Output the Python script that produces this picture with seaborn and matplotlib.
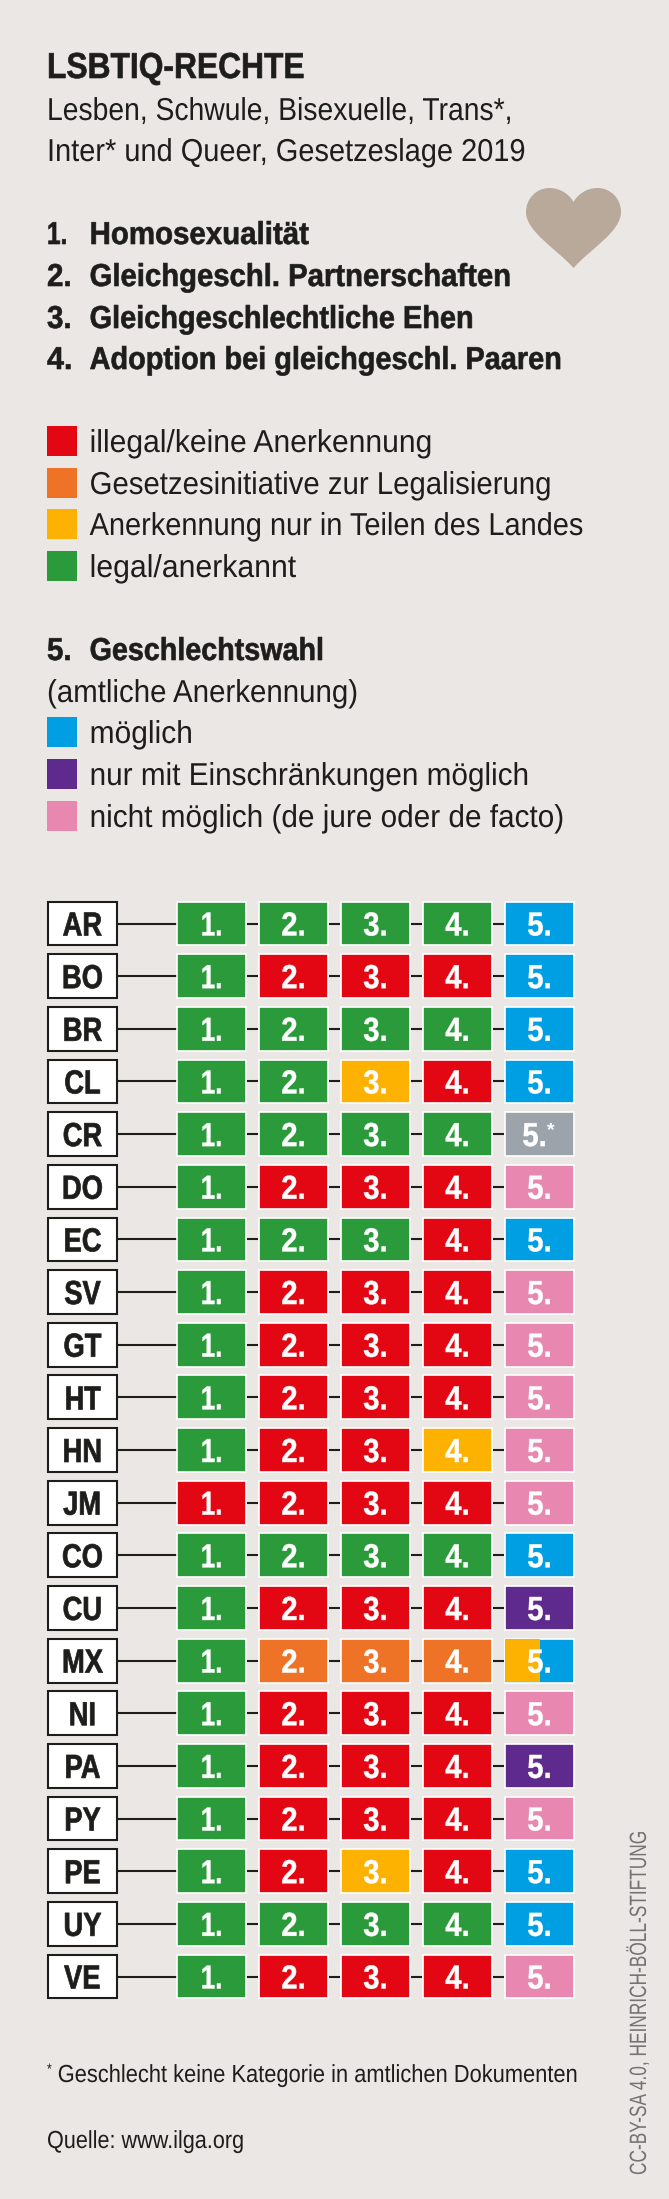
import matplotlib
matplotlib.use("Agg")
import matplotlib.pyplot as plt
from matplotlib.patches import Rectangle, PathPatch
from matplotlib.path import Path
from matplotlib.patheffects import AbstractPathEffect
from matplotlib.transforms import Affine2D, Bbox
import pandas as pd
import seaborn as sns

W, H, DPI = 669, 2199, 100
BG = "#EBE7E4"
INK = "#1D1D1B"

countries = ["AR", "BO", "BR", "CL", "CR", "DO", "EC", "SV", "GT", "HT", "HN",
             "JM", "CO", "CU", "MX", "NI", "PA", "PY", "PE", "UY", "VE"]
law1 = ["G", "G", "G", "G", "G", "G", "G", "G", "G", "G", "G", "R", "G", "G", "G", "G", "G", "G", "G", "G", "G"]
law2 = ["G", "R", "G", "G", "G", "R", "G", "R", "R", "R", "R", "R", "G", "R", "O", "R", "R", "R", "R", "G", "R"]
law3 = ["G", "R", "G", "Y", "G", "R", "G", "R", "R", "R", "R", "R", "G", "R", "O", "R", "R", "R", "Y", "G", "R"]
law4 = ["G", "R", "G", "R", "G", "R", "R", "R", "R", "R", "Y", "R", "G", "R", "O", "R", "R", "R", "R", "G", "R"]
gender = ["B", "B", "B", "B", "N", "K", "B", "K", "K", "K", "K", "K", "B", "P", "B", "K", "P", "K", "B", "B", "K"]
columns = [law1, law2, law3, law4, gender]
column_labels = ["1.", "2.", "3.", "4.", "5."]
palette = {"R": "#E30613", "O": "#EE7326", "Y": "#FDB100", "G": "#2A9A3B",
           "B": "#009FE3", "P": "#5F2A8E", "K": "#E888B0", "N": "#9CA3AB"}
legend_law = [("R", "illegal/keine Anerkennung"),
              ("O", "Gesetzesinitiative zur Legalisierung"),
              ("Y", "Anerkennung nur in Teilen des Landes"),
              ("G", "legal/anerkannt")]
legend_gender = [("B", "möglich"), ("P", "nur mit Einschränkungen möglich"),
                 ("K", "nicht möglich (de jure oder de facto)")]
topics = [("1.", "Homosexualität"), ("2.", "Gleichgeschl. Partnerschaften"),
          ("3.", "Gleichgeschlechtliche Ehen"), ("4.", "Adoption bei gleichgeschl. Paaren")]

sns.set_theme(style="white")
plt.rcParams["font.family"] = ["Liberation Sans", "DejaVu Sans"]
fig = plt.figure(figsize=(W / DPI, H / DPI), dpi=DPI, facecolor=BG)
renderer = fig.canvas.get_renderer()


class Squeeze(AbstractPathEffect):
    """Narrows the glyphs of a text along its own baseline; optional thin outline restores stem weight."""

    def __init__(self, sx, center=False, stroke=0.0):
        super().__init__()
        self.sx, self.center, self.stroke = sx, center, stroke

    def draw_path(self, renderer, gc, tpath, affine, rgbFace=None):
        cx = 0.0
        if self.center:
            e = tpath.get_extents()
            cx = (e.x0 + e.x1) / 2
        tr = Affine2D().translate(-cx, 0).scale(self.sx, 1).translate(cx, 0) + affine
        g = renderer.new_gc()
        g.copy_properties(gc)
        if self.stroke:
            g.set_foreground(rgbFace)
            g.set_linewidth(self.stroke)
        renderer.draw_path(g, tpath, tr, rgbFace)
        g.restore()


def squeeze(txt, sx, center=False, stroke=0.0):
    txt.set_path_effects([Squeeze(sx, center, stroke)])
    orig = txt.get_window_extent

    def extent(renderer=None, dpi=None):
        b = orig(renderer, dpi)
        if txt.get_rotation() == 90:
            return Bbox.from_extents(b.x0, b.y0, b.x1, b.y0 + b.height * sx)
        if center:
            m = (b.x0 + b.x1) / 2
            return Bbox.from_extents(m - b.width * sx / 2, b.y0, m + b.width * sx / 2, b.y1)
        return Bbox.from_extents(b.x0, b.y0, b.x0 + b.width * sx, b.y1)

    txt.get_window_extent = extent
    return txt


# grid axes: one data unit = one column / one row
COL0, COLP, ROW0, ROWP = 211.6, 82.0, 923.5, 52.65
ax = fig.add_axes([0, 0, 1, 1], facecolor="none")
CELLW, CELLH = 68.4 / COLP, 43.8 / ROWP
LABEL_X = (82.4 - COL0) / COLP
GLYPH_DROP = 12 / ROWP

# connectors
for i in range(len(countries)):
    ax.plot([LABEL_X + CELLW / 2, -CELLW / 2], [i, i], color=INK, lw=1.5, zorder=1, solid_capstyle="butt")
    for j in range(4):
        ax.plot([j + CELLW / 2 + 0.012, j + 1 - CELLW / 2 - 0.012], [i, i], color=INK, lw=1.5, zorder=1,
                solid_capstyle="butt")

# country boxes
df_box = pd.DataFrame({"country": countries, "v": [CELLW] * len(countries)})
sns.barplot(data=df_box, y="country", x="v", order=countries, left=LABEL_X - CELLW / 2, width=CELLH,
            color="white", saturation=1, edgecolor=INK, linewidth=1.5, ax=ax, zorder=3, errorbar=None)

# status cells
for j, statuses in enumerate(columns):
    df = pd.DataFrame({"country": countries, "status": statuses, "v": [CELLW] * len(countries)})
    sns.barplot(data=df, y="country", x="v", hue="status", order=countries, palette=palette, dodge=False,
                legend=False, left=j - CELLW / 2, width=CELLH, saturation=1, edgecolor="white",
                linewidth=1.2, ax=ax, zorder=3, errorbar=None)

# Mexico, column 5: split cell (partly yellow)
df_mx = pd.DataFrame({"country": countries, "v": [CELLW / 2 if c == "MX" else 0 for c in countries]})
sns.barplot(data=df_mx, y="country", x="v", order=countries, left=4 - CELLW / 2, width=CELLH - 0.01,
            color=palette["Y"], saturation=1, linewidth=0, ax=ax, zorder=4, errorbar=None)

for i, c in enumerate(countries):
    squeeze(ax.text(LABEL_X, i + GLYPH_DROP, c, color=INK, fontsize=24, fontweight="bold", ha="center",
                    va="baseline", zorder=5), 0.82, True, 0.5)
    for j, lab in enumerate(column_labels):
        star = c == "CR" and j == 4
        squeeze(ax.text(j - (0.06 if star else 0), i + GLYPH_DROP, lab, color="white", fontsize=24,
                        fontweight="bold", ha="center", va="baseline", zorder=5),
                0.78 if lab == "1." else 0.88, True, 0.3)
        if star:
            ax.text(j + 0.14, i - 0.07, "*", color="white", fontsize=14, fontweight="bold", ha="center",
                    va="center", zorder=5)

ax.set_xlim(-COL0 / COLP, (W - COL0) / COLP)
ax.set_ylim((H - ROW0) / ROWP, -ROW0 / ROWP)
ax.axis("off")

# page furniture in pixel coordinates
pg = fig.add_axes([0, 0, 1, 1], facecolor="none")
pg.set_xlim(0, W)
pg.set_ylim(H, 0)
pg.axis("off")


def t(x, y, s, size, end=None, bold=False, sx=0.8):
    txt = pg.text(x, y, s, fontsize=size, fontweight="bold" if bold else "normal", color=INK,
                  va="baseline", ha="left")
    if end is not None:
        sx = (end - x) / txt.get_window_extent(renderer).width
    return squeeze(txt, sx, False, 0.45 if bold else 0.0)


REG, BOLD, SMALL = 22.8, 22.8, 17.8
TX, SW, SH = 89.6, 30, 29.5

t(47, 78, "LSBTIQ-RECHTE", 26, 304, True)
t(47, 120, "Lesben, Schwule, Bisexuelle, Trans*,", REG, 512)
t(47, 161, "Inter* und Queer, Gesetzeslage 2019", REG, 525)
for y, (n, s), end, nend in zip([244, 286, 328, 369], topics, [309, 511, 474, 562], [67.4, 71.7, 71.7, 72.5]):
    t(47, y, n, BOLD, nend, True)
    t(TX, y, s, BOLD, end, True)

for y, (k, s), end in zip([452, 494, 535, 577], legend_law, [432, 551, 583, 296]):
    pg.add_patch(Rectangle((47, y - 26), SW, SH, color=palette[k], lw=0))
    t(TX, y, s, REG, end)
t(47, 660, "5.", BOLD, 71.7, True)
t(TX, 660, "Geschlechtswahl", BOLD, 324, True)
t(47, 702, "(amtliche Anerkennung)", REG, 358)
for y, (k, s), end in zip([743, 785, 827], legend_gender, [193, 529, 564]):
    pg.add_patch(Rectangle((47, y - 26), SW, SH, color=palette[k], lw=0))
    t(TX, y, s, REG, end)

t(47, 2074, "*", 11, None)
t(57.7, 2082, "Geschlecht keine Kategorie in amtlichen Dokumenten", SMALL, 577.7)
t(47, 2148, "Quelle: www.ilga.org", SMALL, 243)

credit = pg.text(651, 2175, "CC-BY-SA 4.0, HEINRICH-BÖLL-STIFTUNG", rotation=90, fontsize=17, color="#737373",
                 va="bottom", ha="right")
squeeze(credit, 343 / credit.get_window_extent(renderer).height)

heart = Path([(573.5, 268), (558, 250), (526, 232), (526, 212), (526, 198), (537, 188), (549.5, 188),
              (560, 188), (569, 194), (573.5, 202), (578, 194), (587, 188), (597.5, 188), (610, 188),
              (621, 198), (621, 212), (621, 232), (589, 250), (573.5, 268), (573.5, 268)],
             [Path.MOVETO] + [Path.CURVE4] * 18 + [Path.CLOSEPOLY])
pg.add_patch(PathPatch(heart, facecolor="#B8A99A", edgecolor="none"))

fig.savefig("out.png", dpi=DPI, facecolor=BG)
